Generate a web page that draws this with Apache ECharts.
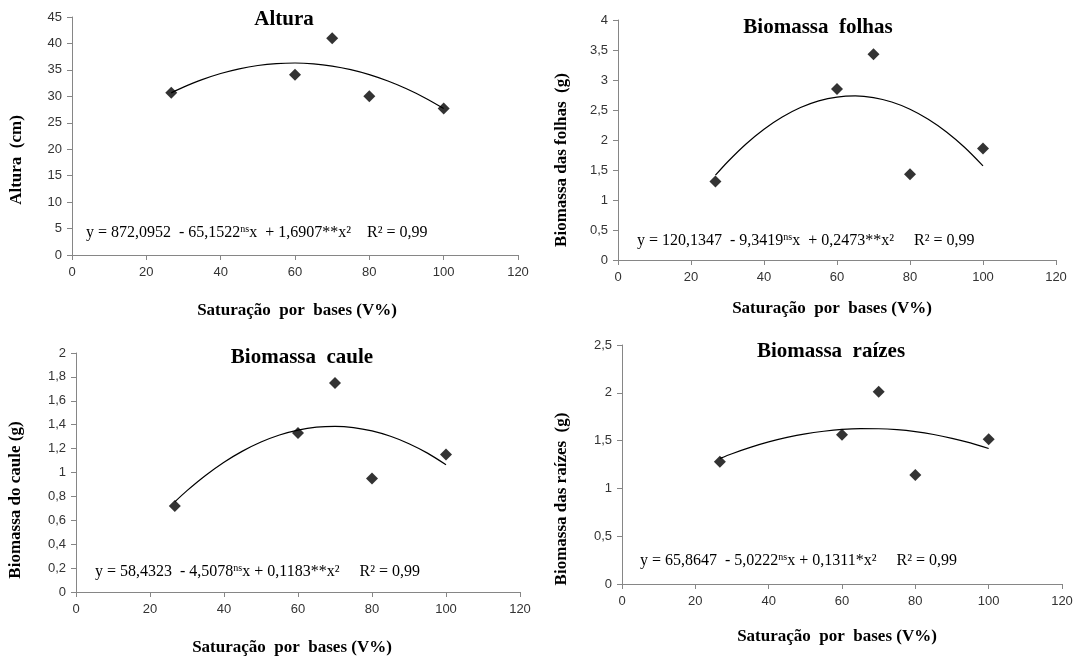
<!DOCTYPE html>
<html>
<head>
<meta charset="utf-8">
<script src="https://cdn.jsdelivr.net/npm/echarts@6/dist/echarts.min.js"></script>
<style>
html,body{margin:0;padding:0;background:#fff;}
#c{width:1077px;height:657px;}
</style>
</head>
<body>
<div id="c"></div>
<script>
// ---- data ----
const xVals = [26.7, 60, 70, 80, 100];
const alturaVals = [30.7, 34.1, 41.0, 30.0, 27.7];
const folhasVals = [1.31, 2.85, 3.43, 1.43, 1.86];
const cauleVals = [0.72, 1.33, 1.75, 0.95, 1.15];
const raizesVals = [1.28, 1.56, 2.01, 1.14, 1.515];

// trend curves at these x positions
const trendX = [26.7, 30, 35, 40, 45, 50, 55, 60, 65, 70, 75, 80, 85, 90, 95, 100];
const alturaTrend = [30.66, 31.74, 33.15, 34.31, 35.20, 35.83, 36.19, 36.30, 36.14, 35.72, 35.04, 34.10, 32.89, 31.43, 29.70, 27.71];
const folhasTrend = [1.413, 1.634, 1.930, 2.180, 2.383, 2.541, 2.652, 2.716, 2.735, 2.707, 2.633, 2.513, 2.346, 2.134, 1.875, 1.569];
const cauleTrend = [0.754, 0.848, 0.975, 1.086, 1.179, 1.255, 1.314, 1.355, 1.379, 1.386, 1.376, 1.348, 1.303, 1.241, 1.162, 1.065];
const raizesTrend = [1.314, 1.363, 1.429, 1.486, 1.533, 1.571, 1.598, 1.617, 1.625, 1.624, 1.614, 1.594, 1.564, 1.524, 1.476, 1.417];

const titles = ['Altura', 'Biomassa  folhas', 'Biomassa  caule', 'Biomassa  raízes'];
const yNames = ['Altura  (cm)', 'Biomassa das folhas  (g)', 'Biomassa do caule (g)', 'Biomassa das raízes  (g)'];
const xName = 'Saturação  por  bases (V%)';
const equations = [
  'y = 872,0952  - 65,1522{ns|ns}x  + 1,6907**x²    R² = 0,99',
  'y = 120,1347  - 9,3419{ns|ns}x  + 0,2473**x²     R² = 0,99',
  'y = 58,4323  - 4,5078{ns|ns}x + 0,1183**x²     R² = 0,99',
  'y = 65,8647  - 5,0222{ns|ns}x + 0,1311*x²     R² = 0,99'
];
const yMax = [45, 4, 2, 2.5];
const yStep = [5, 0.5, 0.2, 0.5];
const xMin = 0, xMax = 120, xStep = 20;

// ---- layout ----
const grids = [
  {left: 72, top: 17, width: 446, height: 238},
  {left: 618, top: 20, width: 438, height: 240},
  {left: 76, top: 353, width: 444, height: 239},
  {left: 622, top: 345, width: 440, height: 239}
];
const titlePos = [[284, 20], [818, 28], [302, 358], [831, 352]];
const yNamePos = [[17, 160], [562, 160], [16, 500], [562, 499]];
const xNamePos = [[297, 311], [832, 309], [292, 648], [837, 637]];
const eqPos = [[86, 233], [637, 241], [95, 572], [640, 561]];

const serif = '"Liberation Serif", "Times New Roman", serif';
const sans = '"Liberation Sans", Arial, sans-serif';
const axisColor = '#868686';

const fmt = v => String(Math.round(v * 100) / 100).replace('.', ',');

const xAxes = grids.map((g, i) => ({
  type: 'value', gridIndex: i, min: xMin, max: xMax, interval: xStep,
  axisLine: {show: true, lineStyle: {color: axisColor, width: 1}},
  axisTick: {show: true, inside: false, length: 5, lineStyle: {color: axisColor}},
  axisLabel: {fontFamily: sans, fontSize: 13, color: '#333', margin: 11},
  splitLine: {show: false}
}));
const yAxes = grids.map((g, i) => ({
  type: 'value', gridIndex: i, min: 0, max: yMax[i], interval: yStep[i],
  axisLine: {show: true, lineStyle: {color: axisColor, width: 1}},
  axisTick: {show: true, inside: false, length: 5, lineStyle: {color: axisColor}},
  axisLabel: {fontFamily: sans, fontSize: 13, color: '#333', margin: 10, formatter: fmt},
  splitLine: {show: false}
}));

const pointSets = [alturaVals, folhasVals, cauleVals, raizesVals];
const trendSets = [alturaTrend, folhasTrend, cauleTrend, raizesTrend];

const series = [];
pointSets.forEach((vals, i) => {
  series.push({
    type: 'line', xAxisIndex: i, yAxisIndex: i, smooth: 0.3, showSymbol: false,
    symbol: 'none', silent: true,
    lineStyle: {color: '#000', width: 1.2},
    data: trendX.map((x, k) => [x, trendSets[i][k]]),
    z: 2
  });
  series.push({
    type: 'scatter', xAxisIndex: i, yAxisIndex: i, symbol: 'diamond', symbolSize: [12, 12],
    itemStyle: {color: '#000'},
    data: xVals.map((x, k) => [x, vals[k]]),
    z: 3
  });
});

const graphic = [];
titles.forEach((t, i) => {
  graphic.push({type: 'text', x: titlePos[i][0], y: titlePos[i][1], style: {
    text: t, fontFamily: serif, fontWeight: 'bold', fontSize: 21, fill: '#000',
    align: 'center', verticalAlign: 'middle', textAlign: 'center', textVerticalAlign: 'middle'}});
  graphic.push({type: 'text', x: yNamePos[i][0], y: yNamePos[i][1], rotation: Math.PI / 2, style: {
    text: yNames[i], fontFamily: serif, fontWeight: 'bold', fontSize: 17, fill: '#000',
    align: 'center', verticalAlign: 'middle', textAlign: 'center', textVerticalAlign: 'middle'}});
  graphic.push({type: 'text', x: xNamePos[i][0], y: xNamePos[i][1], style: {
    text: xName, fontFamily: serif, fontWeight: 'bold', fontSize: 17, fill: '#000',
    align: 'center', verticalAlign: 'middle', textAlign: 'center', textVerticalAlign: 'middle'}});
  graphic.push({type: 'text', x: eqPos[i][0], y: eqPos[i][1], style: {
    text: equations[i], fontFamily: serif, fontSize: 16, fill: '#000',
    align: 'left', verticalAlign: 'middle', textAlign: 'left', textVerticalAlign: 'middle',
    rich: {ns: {fontFamily: serif, fontSize: 10, verticalAlign: 'top', lineHeight: 18}}}});
});

const chart = echarts.init(document.getElementById('c'), null, {renderer: 'canvas'});
chart.setOption({
  backgroundColor: '#fff',
  animation: false,
  grid: grids.map(g => Object.assign({containLabel: false}, g)),
  xAxis: xAxes,
  yAxis: yAxes,
  series: series,
  graphic: graphic
});
</script>
</body>
</html>
